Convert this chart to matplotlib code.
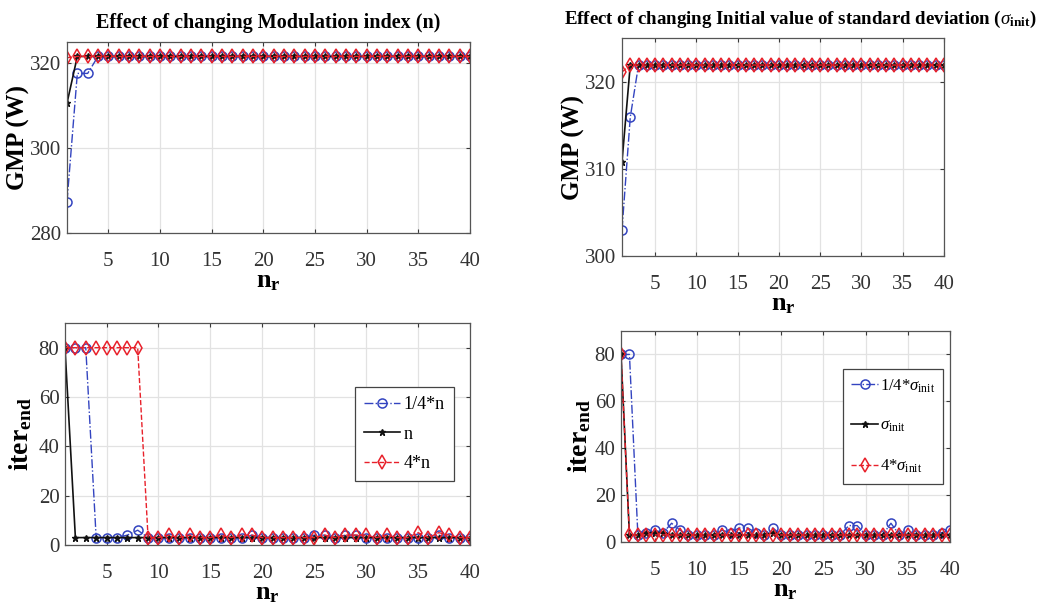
import matplotlib
matplotlib.use("Agg")
import matplotlib.pyplot as plt

plt.rcParams['font.family'] = ['Liberation Serif', 'DejaVu Serif']
plt.rcParams['mathtext.fontset'] = 'custom'
plt.rcParams['mathtext.rm'] = 'Liberation Serif'
plt.rcParams['mathtext.it'] = 'Liberation Serif:italic'
plt.rcParams['mathtext.bf'] = 'Liberation Serif:bold'

# ---------------- data ----------------
nr = list(range(1, 41))

# top-left: GMP, modulation index
gmp_n_quarter = [287.4, 317.6, 317.6, 321.6, 321.6, 321.6, 321.6, 321.6, 321.6, 321.6,
                 321.6, 321.6, 321.6, 321.6, 321.6, 321.6, 321.6, 321.6, 321.6, 321.6,
                 321.6, 321.6, 321.6, 321.6, 321.6, 321.6, 321.6, 321.6, 321.6, 321.6,
                 321.6, 321.6, 321.6, 321.6, 321.6, 321.6, 321.6, 321.6, 321.6, 321.6]
gmp_n = [310.6, 321.6, 321.6, 321.6, 321.6, 321.6, 321.6, 321.6, 321.6, 321.6,
         321.6, 321.6, 321.6, 321.6, 321.6, 321.6, 321.6, 321.6, 321.6, 321.6,
         321.6, 321.6, 321.6, 321.6, 321.6, 321.6, 321.6, 321.6, 321.6, 321.6,
         321.6, 321.6, 321.6, 321.6, 321.6, 321.6, 321.6, 321.6, 321.6, 321.6]
gmp_n_four = [321.3, 321.6, 321.6, 321.6, 321.6, 321.6, 321.6, 321.6, 321.6, 321.6,
              321.6, 321.6, 321.6, 321.6, 321.6, 321.6, 321.6, 321.6, 321.6, 321.6,
              321.6, 321.6, 321.6, 321.6, 321.6, 321.6, 321.6, 321.6, 321.6, 321.6,
              321.6, 321.6, 321.6, 321.6, 321.6, 321.6, 321.6, 321.6, 321.6, 321.6]

# top-right: GMP, sigma_init
gmp_s_quarter = [303.0, 315.9, 321.9, 321.9, 321.9, 321.9, 321.9, 321.9, 321.9, 321.9,
                 321.9, 321.9, 321.9, 321.9, 321.9, 321.9, 321.9, 321.9, 321.9, 321.9,
                 321.9, 321.9, 321.9, 321.9, 321.9, 321.9, 321.9, 321.9, 321.9, 321.9,
                 321.9, 321.9, 321.9, 321.9, 321.9, 321.9, 321.9, 321.9, 321.9, 321.9]
gmp_s = [310.8, 321.9, 321.9, 321.9, 321.9, 321.9, 321.9, 321.9, 321.9, 321.9,
         321.9, 321.9, 321.9, 321.9, 321.9, 321.9, 321.9, 321.9, 321.9, 321.9,
         321.9, 321.9, 321.9, 321.9, 321.9, 321.9, 321.9, 321.9, 321.9, 321.9,
         321.9, 321.9, 321.9, 321.9, 321.9, 321.9, 321.9, 321.9, 321.9, 321.9]
gmp_s_four = [321.1, 321.9, 321.9, 321.9, 321.9, 321.9, 321.9, 321.9, 321.9, 321.9,
              321.9, 321.9, 321.9, 321.9, 321.9, 321.9, 321.9, 321.9, 321.9, 321.9,
              321.9, 321.9, 321.9, 321.9, 321.9, 321.9, 321.9, 321.9, 321.9, 321.9,
              321.9, 321.9, 321.9, 321.9, 321.9, 321.9, 321.9, 321.9, 321.9, 321.9]

# bottom-left: iter_end, modulation index
it_n_quarter = [80, 80, 80, 3, 3, 3, 4, 6, 3, 3, 3, 3, 3, 3, 3, 3, 3, 3, 4, 3,
                3, 3, 3, 3, 4, 4, 3, 4, 4, 3, 3, 3, 3, 3, 3, 3, 4, 3, 3, 3]
it_n = [80, 3, 3, 3, 3, 3, 3, 3, 3, 3, 3, 3, 3, 3, 3, 3, 3, 3, 3, 3,
        3, 3, 3, 3, 3, 3, 3, 3, 3, 3, 3, 3, 3, 3, 3, 3, 3, 3, 3, 3]
it_n_four = [80, 80, 80, 80, 80, 80, 80, 80, 3, 3, 4, 3, 4, 3, 3, 4, 3, 4, 4, 3,
             3, 3, 3, 3, 3, 4, 3, 4, 4, 4, 3, 4, 3, 3, 5, 3, 5, 4, 3, 3]

# bottom-right: iter_end, sigma_init
it_s_quarter = [80, 80, 3, 4, 5, 4, 8, 5, 3, 3, 3, 3, 5, 4, 6, 6, 4, 3, 6, 3,
                3, 3, 3, 3, 3, 3, 3, 7, 7, 3, 3, 3, 8, 3, 5, 3, 3, 3, 4, 5]
it_s = [80, 3, 3, 4, 4, 4, 3, 3, 3, 3, 3, 3, 3, 3, 3, 3, 3, 3, 4, 3,
        3, 3, 3, 3, 3, 3, 3, 3, 3, 3, 3, 3, 3, 3, 3, 3, 3, 3, 3, 3]
it_s_four = [80, 3, 3, 3, 3, 3, 3, 3, 3, 3, 3, 3, 3, 3, 3, 3, 3, 3, 3, 3,
             3, 3, 3, 3, 3, 3, 3, 3, 3, 3, 3, 3, 3, 3, 3, 3, 3, 3, 3, 3]

xticks = [5, 10, 15, 20, 25, 30, 35, 40]
yticks_tl = [280, 300, 320]
yticks_tr = [300, 310, 320]
yticks_b = [0, 20, 40, 60, 80]

labels_n = ['1/4*n', 'n', '4*n']
labels_s = [r'1/4*$\sigma_{\rm init}$', r'$\sigma_{\rm init}$', r'4*$\sigma_{\rm init}$']

title_l = 'Effect of changing Modulation index (n)'
title_r = r'Effect of changing Initial value of standard deviation ($\sigma_{\mathbf{init}}$)'

# ---------------- styling ----------------
W, H = 1052, 615
BLUE = '#3344c0'
RED = '#e8202a'
BLACK = '#111111'
AX_COL = '#3a3a3a'


def add_ax(left, top, right, bottom):
    return fig.add_axes([left / W, 1 - bottom / H, (right - left) / W, (bottom - top) / H])


def style(ax, ylim, yticks):
    ax.set_xlim(1, 40)
    ax.set_ylim(*ylim)
    ax.set_xticks(xticks)
    ax.set_yticks(yticks)
    ax.grid(True, color='#e2e2e2', linewidth=0.9)
    ax.set_axisbelow(True)
    ax.tick_params(direction='in', length=3, top=True, right=True, colors=AX_COL,
                   labelsize=15, labelcolor='#333333')
    ax.tick_params(axis='x', pad=14)
    ax.tick_params(axis='y', pad=4)
    for s in ax.spines.values():
        s.set_color('#555555')
        s.set_linewidth(0.9)
    ax.set_xlabel(r'$\mathbf{n}_{\mathbf{r}}$', fontsize=19, labelpad=0)


def draw(ax, a, b, c, labels):
    ax.plot(nr, a, linestyle='-.', color=BLUE, marker='o', markersize=6.5,
            markerfacecolor='none', markeredgewidth=1.1, linewidth=1.0, label=labels[0])
    ax.plot(nr, b, linestyle='-', color=BLACK, marker='*', markersize=4.5,
            linewidth=1.2, label=labels[1])
    ax.plot(nr, c, linestyle='--', color=RED, marker='d', markersize=7,
            markerfacecolor='none', markeredgewidth=1.1, linewidth=1.0, label=labels[2])


fig = plt.figure(figsize=(W / 100, H / 100), dpi=100)

ax_tl = add_ax(67, 42, 470, 233)
ax_tr = add_ax(622, 38, 944, 256)
ax_bl = add_ax(65, 323, 470, 545)
ax_br = add_ax(621, 331, 950, 542)

draw(ax_tl, gmp_n_quarter, gmp_n, gmp_n_four, labels_n)
draw(ax_tr, gmp_s_quarter, gmp_s, gmp_s_four, labels_s)
draw(ax_bl, it_n_quarter, it_n, it_n_four, labels_n)
draw(ax_br, it_s_quarter, it_s, it_s_four, labels_s)

style(ax_tl, (280, 325), yticks_tl)
style(ax_tr, (300, 325), yticks_tr)
style(ax_bl, (0, 90), yticks_b)
style(ax_br, (0, 90), yticks_b)

ax_tl.set_ylabel('GMP (W)', fontsize=18, fontweight='bold', labelpad=0)
ax_tr.set_ylabel('GMP (W)', fontsize=18, fontweight='bold', labelpad=0)
ax_bl.set_ylabel(r'$\mathbf{iter}_{\mathbf{end}}$', fontsize=20, labelpad=3)
ax_br.set_ylabel(r'$\mathbf{iter}_{\mathbf{end}}$', fontsize=20, labelpad=1)

ax_tl.set_title(title_l, fontsize=14.5, fontweight='bold', pad=10)
ax_tr.set_title(title_r, fontsize=13.6, fontweight='bold', pad=10, x=0.555)

leg_kw = dict(loc='upper left', fancybox=False, framealpha=1, edgecolor='#444444',
              borderaxespad=0, borderpad=0.5)
l1 = ax_bl.legend(bbox_to_anchor=(0.716, 0.712), labelspacing=0.7, fontsize=13,
                  handlelength=2.0, handletextpad=0.2, **leg_kw)
l2 = ax_br.legend(bbox_to_anchor=(0.675, 0.82), labelspacing=1.4, fontsize=12,
                  handlelength=1.6, handletextpad=0.1, **leg_kw)
for l in (l1, l2):
    l.get_frame().set_linewidth(0.9)

fig.savefig('out.png', dpi=100)
